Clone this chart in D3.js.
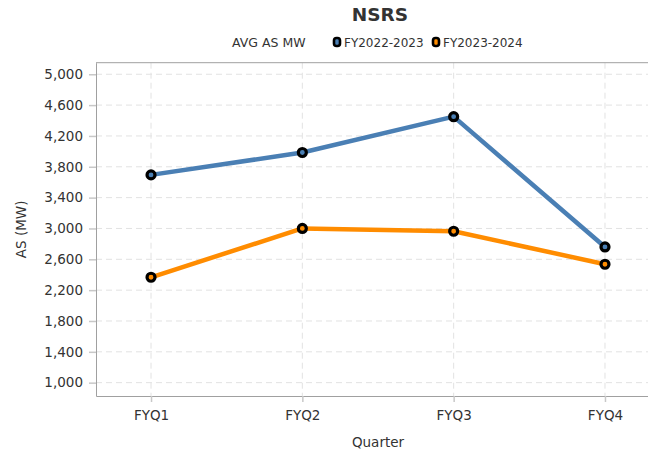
<!DOCTYPE html>
<html><head><meta charset="utf-8">
<script src="https://cdn.jsdelivr.net/npm/d3@7"></script>
<style>
html,body{margin:0;padding:0;background:#fff;overflow:hidden}
text{font-family:"DejaVu Sans",sans-serif;fill:#333}
</style></head>
<body>
<svg id="chart" width="648" height="454"></svg>
<script>
const quarters = ["FYQ1","FYQ2","FYQ3","FYQ4"];
const fy2223 = [3695, 3985, 4450, 2760];
const fy2324 = [2367, 3000, 2964, 2536];
const yTicks = [1000,1400,1800,2200,2600,3000,3400,3800,4200,4600,5000];
const seriesNames = ["FY2022-2023","FY2023-2024"];
const seriesColors = ["#4a7fb4","#ff8c00"];

const svg = d3.select("#chart");
const L = 96, R = 660, T = 62.7, B = 396;

const x = d3.scalePoint().domain(quarters).range([L, R]).padding(0.3636);
const y = d3.scaleLinear().domain([827, 5150]).range([B, T]);

// grid
const g = svg.append("g");
g.selectAll(".hg").data(yTicks).join("line")
  .attr("x1", L).attr("x2", R).attr("y1", d=>y(d)).attr("y2", d=>y(d))
  .attr("stroke", "#e2e2e2").attr("stroke-width", 1).attr("stroke-dasharray", "6,4");
g.selectAll(".vg").data(quarters).join("line")
  .attr("x1", d=>x(d)).attr("x2", d=>x(d)).attr("y1", T).attr("y2", B)
  .attr("stroke", "#e2e2e2").attr("stroke-width", 1).attr("stroke-dasharray", "6,4");

// frame
svg.append("line").attr("x1", L).attr("x2", R).attr("y1", T).attr("y2", T).attr("stroke", "#a0a0a0");

// axes
const yAxis = d3.axisLeft(y).tickValues(yTicks).tickSize(7).tickSizeOuter(0).tickPadding(6).tickFormat(d3.format(","));
const ya = svg.append("g").attr("transform", `translate(${L},0)`).call(yAxis);
const xAxis = d3.axisBottom(x).tickSize(6).tickSizeOuter(0).tickPadding(8);
const xa = svg.append("g").attr("transform", `translate(0,${B})`).call(xAxis);
[ya, xa].forEach(a => {
  a.select(".domain").attr("stroke", "#a0a0a0");
  a.selectAll(".tick line").attr("stroke", "#c8c8c8").attr("stroke-width", 1.5);
  a.selectAll(".tick text").attr("font-size", "13.5px").attr("fill", "#333")
    .attr("font-family", "DejaVu Sans, sans-serif");
});

// lines
const series = [fy2223, fy2324];
const line = d3.line().x((d,i)=>x(quarters[i])).y(d=>y(d));
series.forEach((s, k) => {
  svg.append("path").datum(s).attr("d", line).attr("fill", "none")
    .attr("stroke", seriesColors[k]).attr("stroke-width", 4.5).attr("stroke-linejoin", "round");
});
series.forEach((s, k) => {
  svg.selectAll(null).data(s).join("circle")
    .attr("cx", (d,i)=>x(quarters[i])).attr("cy", d=>y(d)).attr("r", 4)
    .attr("fill", seriesColors[k]).attr("stroke", "#000").attr("stroke-width", 3.2);
});

// titles
svg.append("text").attr("x", 380).attr("y", 21).attr("text-anchor", "middle")
  .attr("font-size", "18.5px").attr("font-weight", "bold").attr("fill", "#000").text("NSRS");
svg.append("text").attr("x", (L+R)/2).attr("y", 447).attr("text-anchor", "middle")
  .attr("font-size", "13.5px").text("Quarter");
svg.append("text").attr("transform", `translate(26,${(T+B)/2}) rotate(-90)`).attr("text-anchor", "middle")
  .attr("font-size", "13.5px").text("AS (MW)");

// legend
const lg = svg.append("g");
lg.append("text").attr("x", 232).attr("y", 46.5).attr("font-size", "12.5px").attr("fill", "#222").text("AVG AS MW");
const lx = [337, 436];
seriesNames.forEach((n, k) => {
  lg.append("rect").attr("x", lx[k]-3).attr("y", 38).attr("width", 6).attr("height", 8)
    .attr("rx", 2.5).attr("fill", seriesColors[k]).attr("stroke", "#000").attr("stroke-width", 2.6);
  lg.append("text").attr("x", lx[k]+7).attr("y", 46.5).attr("font-size", "12px").attr("fill", "#222").text(n);
});
</script>
</body></html>
